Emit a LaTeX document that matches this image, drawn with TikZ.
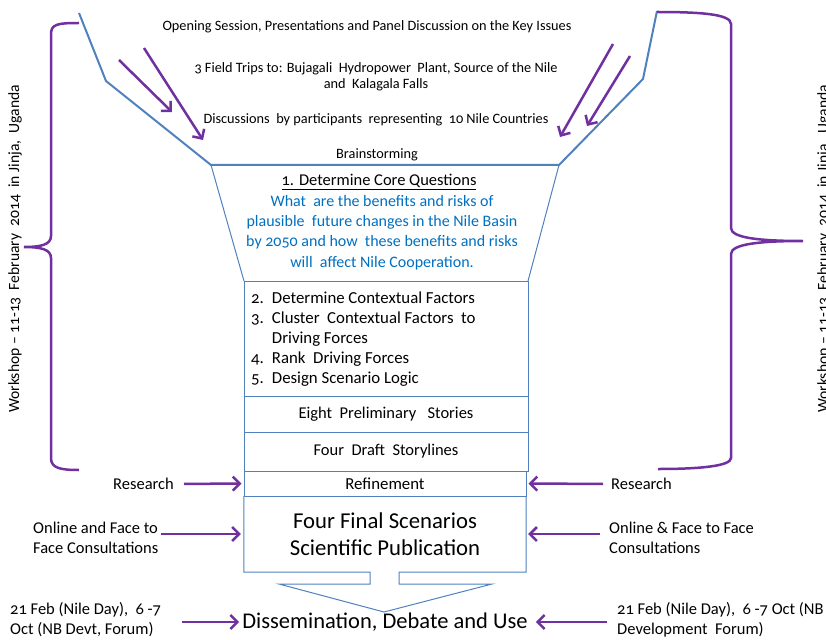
\documentclass[tikz,border=0pt]{standalone}
\usepackage{fontspec}
\setmainfont{Carlito}[Numbers=OldStyle]
\usetikzlibrary{arrows.meta,positioning}
\definecolor{funnelblue}{HTML}{4F81BD}
\definecolor{bracepurple}{HTML}{7030A0}
\definecolor{questblue}{HTML}{0070C0}

\tikzset{
  box/.style={draw=funnelblue, line width=1pt, minimum width=284pt, inner sep=0pt},
  funnel/.style={draw=funnelblue, line width=2pt, line join=round},
  parr/.style={-{Straight Barb[length=7pt,width=14pt,line width=2.5pt]}, draw=bracepurple, line width=2.5pt},
  brace/.style={draw=bracepurple, line width=2.5pt},
  small/.style={font=\fontsize{14.3}{16}\selectfont, inner sep=1pt},
  lab/.style={font=\fontsize{16.5}{20}\selectfont, align=left, inner sep=1pt},
  big/.style={font=\fontsize{22.7}{27}\selectfont, align=center}
}

\begin{document}
\begin{tikzpicture}[x=1pt, y=-1pt]
\useasboundingbox (0,0) rectangle (826,639);
\clip (0,0) rectangle (826,639);

% funnel
\draw[funnel] (79,13) -- (106,81) -- (211,165) -- (559,165) -- (643,79) -- (657,11);
\draw[funnelblue, line width=1pt] (211,165) -- (244,281);
\draw[funnelblue, line width=1pt] (559,165) -- (528,281);

% workshop inputs
\node[small] (open) at (367,27) {Opening Session, Presentations and Panel Discussion on the Key Issues};
\node[small, align=center] (trips) at (376,77) {3 Field Trips to: Bujagali\ \ Hydropower\ \ Plant, Source of the Nile\\and\ \ Kalagala Falls};
\node[small] (disc) at (376,120) {Discussions\ \ by participants\ \ representing\ \ 10 Nile Countries};
\node[small] (brain) at (377,155) {Brainstorming};

\draw[parr] (119,60) -- (172,112);
\draw[parr] (144,48) -- (203,140);
\draw[parr] (613,44) -- (560,137);
\draw[parr] (630,56) -- (587,126);

% core questions
\node[font=\fontsize{16.5}{20}\selectfont, inner sep=1pt] (core) at (379,182) {\underline{1. Determine\ Core\ Questions}};
\node[font=\fontsize{16}{20.3}\selectfont, text=questblue, align=center, below=3pt of core, xshift=3pt, inner sep=1pt] (quest)
  {What\ \ are the benefits and risks of\\plausible\ \ future changes in the Nile Basin\\by 2050 and how\ \ these benefits and risks\\will\ \ affect Nile Cooperation.};

% stacked boxes
\node[box, minimum height=115pt] (steps) at (386,338.5) {};
\node[anchor=west, inner sep=0pt, font=\fontsize{16.8}{20}\selectfont] (stepsTxt) at (251,339.5) {%
  \begin{tabular}{@{}l@{\hspace{8pt}}l@{}}
  2. & Determine Contextual Factors\\
  3. & Cluster\ \ Contextual Factors\ \ to\\
     & Driving Forces\\
  4. & Rank\ \ Driving Forces\\
  5. & Design Scenario Logic
  \end{tabular}};
\node[box, minimum height=36pt, font=\fontsize{16.5}{15}\selectfont] (eight) at (386,414) {Eight\ \ Preliminary\ \ \ Stories};
\node[box, minimum height=39pt, font=\fontsize{16.5}{15}\selectfont] (draft) at (386,451.5) {Four\ \ Draft\ \ Storylines};
\node[box, minimum width=282pt, minimum height=25pt, font=\fontsize{16.8}{15}\selectfont] (refine) at (385,483.5) {Refinement};
\node[big, minimum width=282pt, minimum height=76pt, inner sep=0pt] (final) at (385,534) {Four Final Scenarios\\Scientific Publication};
\draw[funnelblue, line width=1pt] (final.north west) -- (final.south west) -- (370,572) -- (370,584) -- (279,584)
  -- (384,612) -- (492,584) -- (399,584) -- (399,572) -- (final.south east) -- (final.north east);

\node[font=\fontsize{22.5}{24}\selectfont, inner sep=2pt] (diss) at (385,622) {Dissemination, Debate and Use};

% side labels
\node[lab, anchor=east] (resL) at (175,484) {Research};
\node[lab, anchor=west] (onlL) at (32,538) {Online and Face to\\Face Consultations};
\node[lab, anchor=west] (dateL) at (9,619.5) {21 Feb (Nile Day),\ \ 6 -7\\Oct (NB Devt, Forum)};
\node[lab, anchor=west] (resR) at (610,484) {Research};
\node[lab, anchor=west] (onlR) at (608,538) {Online \& Face to Face\\Consultations};
\node[lab, anchor=west] (dateR) at (616,619.5) {21 Feb (Nile Day),\ \ 6 -7 Oct (NB\\Development\ \ Forum)};

\draw[parr, shorten <=9pt, shorten >=2pt] (resL.east) -- (refine.west);
\draw[parr, shorten <=1pt, shorten >=3pt] (onlL.east |- final.west) -- (final.west);
\draw[parr, shorten <=20pt, shorten >=1pt] (dateL.east |- diss.west) -- (diss.west);
\draw[parr, shorten <=7pt, shorten >=2pt] (resR.west) -- (refine.east);
\draw[parr, shorten <=8pt, shorten >=2pt] (onlR.west |- final.east) -- (final.east);
\draw[parr, shorten <=9pt, shorten >=6pt] (dateR.west |- diss.east) -- (diss.east);

% workshop braces
\draw[brace] (79,23) .. controls (58,23) and (51,24) .. (51,34) -- (51,236)
  .. controls (51,245) and (40,247) .. (24,247)
  .. controls (40,247) and (51,249) .. (51,258) -- (51,458)
  .. controls (51,468) and (60,470) .. (79,470);
\draw[brace] (657,12) .. controls (700,12) and (731,14) .. (731,24) -- (731,228)
  .. controls (731,238) and (760,241) .. (803,241)
  .. controls (760,241) and (731,244) .. (731,254) -- (731,458)
  .. controls (731,466) and (700,469) .. (658,469);

\node[lab, font=\fontsize{15.6}{20}\selectfont, rotate=90] (wsL) at (15,249) {Workshop -- 11-13\ \ February\ \ 2014\ \ in Jinja,\ \ Uganda};
\node[lab, font=\fontsize{15.6}{20}\selectfont, rotate=90] (wsR) at (824,249) {Workshop -- 11-13\ \ February\ \ 2014\ \ in Jinja,\ \ Uganda};
\end{tikzpicture}
\end{document}
